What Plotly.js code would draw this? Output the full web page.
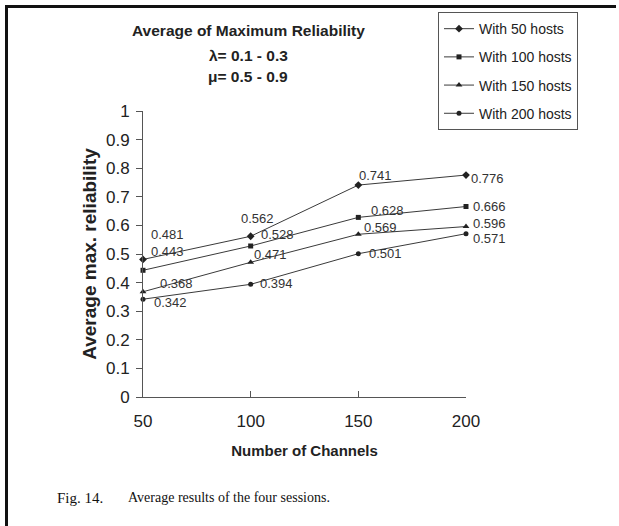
<!DOCTYPE html>
<html>
<head>
<meta charset="utf-8">
<script src="https://cdn.plot.ly/plotly-3.0.1.min.js"></script>
<style>
  html, body { margin: 0; padding: 0; background: #fff; }
  #wrap { position: relative; width: 619px; height: 526px; overflow: hidden; }
  #chart { position: absolute; left: 0; top: 0; width: 619px; height: 526px; }
  #frame { position: absolute; left: 5px; top: 5px; width: 608px; height: 530px;
           border-top: 3px solid #111; border-left: 3px solid #111; pointer-events: none; }
</style>
</head>
<body>
<div id="wrap">
  <div id="chart"></div>
  <div id="frame"></div>
</div>
<script>
const channels = [50, 100, 150, 200];
const hosts50  = [0.481, 0.562, 0.741, 0.776];
const hosts100 = [0.443, 0.528, 0.628, 0.666];
const hosts150 = [0.368, 0.471, 0.569, 0.596];
const hosts200 = [0.342, 0.394, 0.501, 0.571];
const seriesNames = ['With 50 hosts', 'With 100 hosts', 'With 150 hosts', 'With 200 hosts'];
const yTicks = [0, 0.1, 0.2, 0.3, 0.4, 0.5, 0.6, 0.7, 0.8, 0.9, 1];
const yTickText = ['0', '0.1', '0.2', '0.3', '0.4', '0.5', '0.6', '0.7', '0.8', '0.9', '1'];
const titleLines = ['Average of Maximum Reliability', 'λ= 0.1 - 0.3', 'μ= 0.5 - 0.9'];
const captionNum = 'Fig. 14.';
const captionText = 'Average results of the four sessions.';

const allSeries = [hosts50, hosts100, hosts150, hosts200];
const symbols = ['diamond', 'square', 'triangle-up', 'circle'];
const msizes = [6, 5, 6, 5];

// label offsets in pixels [dx, dy] (dy positive = up), per series per point
const labelShift = [
  [[24, 25], [7, 18], [17, 10], [21, -3]],
  [[24, 19], [27, 11], [29, 7], [23, 0]],
  [[33, 8], [20, 8], [22, 7], [23, 3]],
  [[27, -3], [26, 1], [27, 0], [23, -5]]
];

const traces = allSeries.map((vals, i) => ({
  x: channels, y: vals, type: 'scatter', mode: 'lines+markers',
  name: seriesNames[i], legendgroup: 'g' + i,
  line: {color: '#3a3a3a', width: 1},
  marker: {symbol: symbols[i], size: msizes[i], color: '#222'},
  cliponaxis: false
}));

const annotations = [];
allSeries.forEach((vals, i) => {
  vals.forEach((v, j) => {
    annotations.push({
      x: channels[j], y: v, xref: 'x', yref: 'y',
      text: v.toFixed(3), showarrow: false,
      xshift: labelShift[i][j][0], yshift: labelShift[i][j][1],
      font: {family: 'Liberation Sans, Arial, sans-serif', size: 13, color: '#333'}
    });
  });
});

// plot area: x 143..466 px, y 105..397 px
const pxX = p => (p - 143) / 323;
const pxY = p => (397 - p) / 292;

const titleY = [23, 48, 70];
titleLines.forEach((t, k) => {
  annotations.push({
    xref: 'paper', yref: 'paper', x: pxX(248), y: pxY(titleY[k]),
    xanchor: 'center', yanchor: 'middle', showarrow: false,
    text: '<b>' + t + '</b>',
    font: {family: 'Liberation Sans, Arial, sans-serif', size: 15.5, color: '#222'}
  });
});

annotations.push({
  xref: 'paper', yref: 'paper', x: pxX(55), y: pxY(500), xanchor: 'left', yanchor: 'middle',
  text: captionNum, showarrow: false,
  font: {family: 'Liberation Serif, Times New Roman, serif', size: 15, color: '#111'}
});
annotations.push({
  xref: 'paper', yref: 'paper', x: pxX(126), y: pxY(500), xanchor: 'left', yanchor: 'middle',
  text: captionText, showarrow: false,
  font: {family: 'Liberation Serif, Times New Roman, serif', size: 14, color: '#111'}
});

const layout = {
  width: 619, height: 526,
  margin: {l: 143, r: 153, t: 105, b: 129},
  paper_bgcolor: '#fff', plot_bgcolor: '#fff',
  font: {family: 'Liberation Sans, Arial, sans-serif', color: '#222'},
  xaxis: {
    range: [50, 200], tickvals: channels, ticktext: channels.map(String),
    showline: true, linecolor: '#555', linewidth: 1,
    ticks: 'inside', ticklen: 6, tickcolor: '#555',
    showgrid: false, zeroline: false, ticklabelstandoff: 9,
    tickfont: {size: 17, color: '#222'},
    title: {text: '<b>Number of Channels</b>', font: {size: 15, color: '#222'}, standoff: 15}
  },
  yaxis: {
    range: [0, 1], tickvals: yTicks, ticktext: yTickText,
    showline: true, linecolor: '#555', linewidth: 1,
    ticks: 'outside', ticklen: 6, tickcolor: '#555',
    showgrid: false, zeroline: false, ticklabelstandoff: 3,
    tickfont: {size: 17, color: '#222'},
    title: {text: '<b>Average max. reliability</b>', font: {size: 19, color: '#222'}, standoff: 4}
  },
  showlegend: true,
  legend: {
    x: pxX(438), y: pxY(4), xanchor: 'left', yanchor: 'top',
    bordercolor: '#555', borderwidth: 1, bgcolor: '#fff',
    traceorder: 'grouped', tracegroupgap: 7,
    font: {size: 14, color: '#222'}, itemwidth: 30
  },
  annotations: annotations
};

Plotly.newPlot('chart', traces, layout, {displayModeBar: false, staticPlot: true});
</script>
</body>
</html>
